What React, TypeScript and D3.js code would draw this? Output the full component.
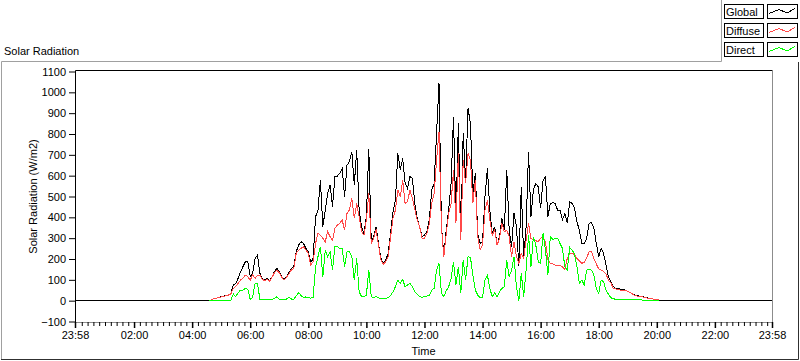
import * as d3 from 'd3';
import { useEffect, useRef } from 'react';

// samples every 5 minutes, starting 04:35
const startMinute = 275;
const stepMinutes = 5;

const globalValues = [
  0,
  5, 9, 12, 16, 19, 22, 25, 28, 35, 75,
  83, 107, 139, 163, 187, 187, 115, 131, 203, 219,
  131, 107, 99, 107, 96, 115, 139, 155, 139, 115,
  102, 115, 134, 155, 163, 235, 267, 283, 275, 251,
  235, 182, 203, 403, 435, 579, 355, 435, 515, 555,
  451, 595, 598, 611, 635, 499, 651, 667, 715, 555,
  723, 435, 355, 323, 403, 726, 283, 307, 355, 275,
  203, 179, 195, 227, 323, 427, 483, 707, 627, 683,
  563, 539, 595, 587, 467, 395, 355, 307, 315, 331,
  387, 531, 563, 803, 1043, 363, 219, 339, 435, 563,
  883, 387, 851, 307, 803, 579, 923, 851, 515, 611,
  323, 275, 283, 499, 635, 435, 323, 355, 267, 307,
  395, 339, 627, 339, 259, 419, 355, 165, 547, 203,
  355, 715, 403, 531, 563, 547, 443, 579, 595, 403,
  467, 470, 467, 435, 435, 387, 419, 371, 475, 467,
  443, 379, 339, 275, 275, 299, 371, 374, 347, 275,
  211, 251, 227, 171, 115, 91, 67, 59, 59, 54,
  53, 51, 45, 38, 34, 27, 24, 21, 19, 16,
  14, 11, 10, 6, 5, 3
];

const diffuseValues = [
  0,
  5, 9, 12, 15, 18, 21, 24, 27, 33, 59,
  67, 83, 99, 107, 123, 115, 99, 123, 107, 123,
  123, 102, 96, 102, 93, 112, 134, 147, 134, 112,
  99, 112, 128, 147, 155, 227, 243, 251, 259, 243,
  227, 171, 187, 275, 323, 315, 299, 283, 331, 307,
  291, 347, 363, 371, 387, 339, 419, 435, 491, 395,
  467, 403, 331, 315, 387, 515, 275, 299, 342, 267,
  195, 174, 187, 211, 307, 395, 435, 531, 499, 579,
  467, 475, 531, 491, 438, 387, 355, 299, 299, 323,
  371, 467, 515, 675, 811, 355, 211, 323, 419, 467,
  627, 371, 707, 291, 675, 563, 707, 675, 467, 579,
  307, 243, 267, 435, 483, 387, 315, 339, 267, 299,
  371, 330, 339, 307, 211, 283, 211, 180, 227, 203,
  291, 371, 299, 291, 288, 283, 299, 307, 283, 195,
  179, 176, 171, 171, 168, 163, 150, 203, 227, 227,
  222, 203, 192, 179, 185, 203, 235, 235, 203, 176,
  153, 147, 141, 128, 99, 86, 59, 56, 54, 51,
  51, 50, 45, 38, 32, 25, 22, 19, 18, 16,
  13, 11, 10, 6, 5, 3
];

const directValues = [
  0,
  0, 1, 1, 1, 1, 1, 2, 2, 3, 32,
  19, 38, 51, 51, 59, 54, 6, 16, 83, 83,
  6, 6, 6, 6, 6, 6, 11, 19, 8, 5,
  5, 8, 16, 8, 8, 22, 38, 25, 15, 18,
  16, 12, 15, 163, 211, 259, 115, 243, 211, 235,
  147, 259, 259, 251, 251, 163, 235, 235, 211, 99,
  203, 43, 19, 19, 27, 147, 19, 16, 19, 13,
  11, 10, 10, 15, 25, 43, 67, 99, 83, 102,
  67, 75, 83, 67, 43, 32, 19, 16, 19, 22,
  25, 51, 59, 147, 179, 38, 19, 48, 67, 107,
  187, 75, 163, 35, 195, 99, 211, 208, 123, 51,
  27, 13, 16, 99, 123, 59, 19, 38, 19, 43,
  59, 67, 195, 115, 147, 211, 67, 0, 131, 19,
  147, 315, 163, 307, 267, 187, 179, 323, 243, 123,
  307, 294, 299, 299, 275, 251, 163, 147, 256, 243,
  224, 163, 83, 99, 75, 147, 150, 147, 123, 59,
  35, 99, 90, 51, 32, 14, 10, 6, 6, 5,
  5, 5, 5, 5, 4, 4, 4, 4, 3, 3,
  3, 3, 3, 2, 2, 0
];

const seriesNames = ["Global", "Diffuse", "Direct"];
const seriesColors = ["#000000", "#ff4848", "#00ff00"];

const yTicks = [-100, 0, 100, 200, 300, 400, 500, 600, 700, 800, 900, 1000, 1100];
const xTickMinutes = [-2, 120, 240, 360, 480, 600, 720, 840, 960, 1080, 1200, 1320, 1438];
const xTickLabels = ["23:58", "02:00", "04:00", "06:00", "08:00", "10:00", "12:00",
  "14:00", "16:00", "18:00", "20:00", "22:00", "23:58"];

const FONT = '"Liberation Sans", Arial, sans-serif';

const App = () => {
  const ref = useRef(null);

  useEffect(() => {
    const svg = d3.select(ref.current);
    svg.selectAll("*").remove();

    const left = 75, right = 772, top = 71, bottom = 322;

    const x = d3.scaleLinear().domain([-2, 1438]).range([left, right]);
    const y = d3.scaleLinear().domain([-100, 1100]).range([321.5, 71.5]);

    // outer panel
    svg.append("rect").attr("width", 800).attr("height", 361).attr("fill", "#fff");
    svg.append("path")
      .attr("d", "M1.5,360 V61.5 H721.5 V0")
      .attr("fill", "none").attr("stroke", "#a0a0a0");
    svg.append("path")
      .attr("d", "M1,359.5 H798.5 V62")
      .attr("fill", "none").attr("stroke", "#303030");

    svg.append("text")
      .attr("x", 4).attr("y", 55)
      .attr("font-family", FONT).attr("font-size", 11)
      .text("Solar Radiation");

    // plot frame
    svg.append("path")
      .attr("d", `M${left},${bottom + 0.5} H${right + 0.5} V${top}`)
      .attr("fill", "none").attr("stroke", "#8c8c8c");
    svg.append("path")
      .attr("d", `M${left + 0.5},${bottom} V${top - 0.5} H${right + 0.5}`)
      .attr("fill", "none").attr("stroke", "#000");

    // y axis
    const yAxis = svg.append("g")
      .attr("transform", `translate(${left},0)`)
      .call(d3.axisLeft(y).tickValues(yTicks).tickSize(6).tickPadding(3)
        .tickSizeOuter(0).tickFormat(d3.format("d")));
    yAxis.select(".domain").remove();
    yAxis.selectAll("text").attr("font-family", FONT).attr("font-size", 11).attr("fill", "#000");

    // x axis: minor ticks every 12 minutes, then major ticks with labels
    const minor = d3.range(0, 1438, 12).filter(m => !xTickMinutes.includes(m) && m > 4);
    const xMinor = svg.append("g")
      .attr("transform", `translate(0,${bottom})`)
      .call(d3.axisBottom(x).tickValues(minor).tickSize(4).tickFormat(() => ""));
    xMinor.select(".domain").remove();

    const xAxis = svg.append("g")
      .attr("transform", `translate(0,${bottom})`)
      .call(d3.axisBottom(x).tickValues(xTickMinutes).tickSize(6).tickPadding(3)
        .tickFormat((d, i) => xTickLabels[i]));
    xAxis.select(".domain").remove();
    xAxis.selectAll("line").attr("stroke-width", 1.5);
    xAxis.selectAll("text").attr("font-family", FONT).attr("font-size", 11).attr("fill", "#000");

    svg.append("text")
      .attr("x", (left + right) / 2).attr("y", 355)
      .attr("text-anchor", "middle")
      .attr("font-family", FONT).attr("font-size", 11)
      .text("Time");

    svg.append("text")
      .attr("transform", `translate(37,${(top + bottom) / 2}) rotate(-90)`)
      .attr("text-anchor", "middle")
      .attr("font-family", FONT).attr("font-size", 11)
      .text("Solar Radiation (W/m2)");

    // series
    const toPoints = values => values.map((v, i) => [startMinute + i * stepMinutes, v]);
    const globalPts = [[-2, 0], ...toPoints(globalValues), [1438, 0]];
    const series = [globalPts, toPoints(diffuseValues), toPoints(directValues)];

    const line = d3.line().x(d => x(d[0])).y(d => y(d[1]));

    const plot = svg.append("g");
    series.forEach((pts, k) => {
      plot.append("path")
        .datum(pts)
        .attr("d", line)
        .attr("fill", "none")
        .attr("stroke", seriesColors[k])
        .attr("stroke-width", 1)
        .attr("shape-rendering", "crispEdges");
    });

    // legend
    const legend = svg.append("g");
    seriesNames.forEach((name, k) => {
      const ly = 4 + k * 19;
      legend.append("rect")
        .attr("x", 724.5).attr("y", ly + 0.5).attr("width", 39).attr("height", 14)
        .attr("fill", "#fff").attr("stroke", "#000");
      legend.append("text")
        .attr("x", 726).attr("y", ly + 11.5)
        .attr("font-family", FONT).attr("font-size", 11)
        .text(name);
      legend.append("rect")
        .attr("x", 767.5).attr("y", ly + 0.5).attr("width", 30).attr("height", 14)
        .attr("fill", "#fff").attr("stroke", "#000");
      legend.append("polyline")
        .attr("points", [[769, ly + 9.5], [779, ly + 5.5], [787, ly + 9], [795, ly + 4.5]].join(" "))
        .attr("fill", "none").attr("stroke", seriesColors[k])
        .attr("shape-rendering", "crispEdges");
    });
  }, []);

  return (
    <svg ref={ref} width={800} height={361}
      style={{ position: "absolute", left: 0, top: 0, display: "block" }} />
  );
};

export default App;
